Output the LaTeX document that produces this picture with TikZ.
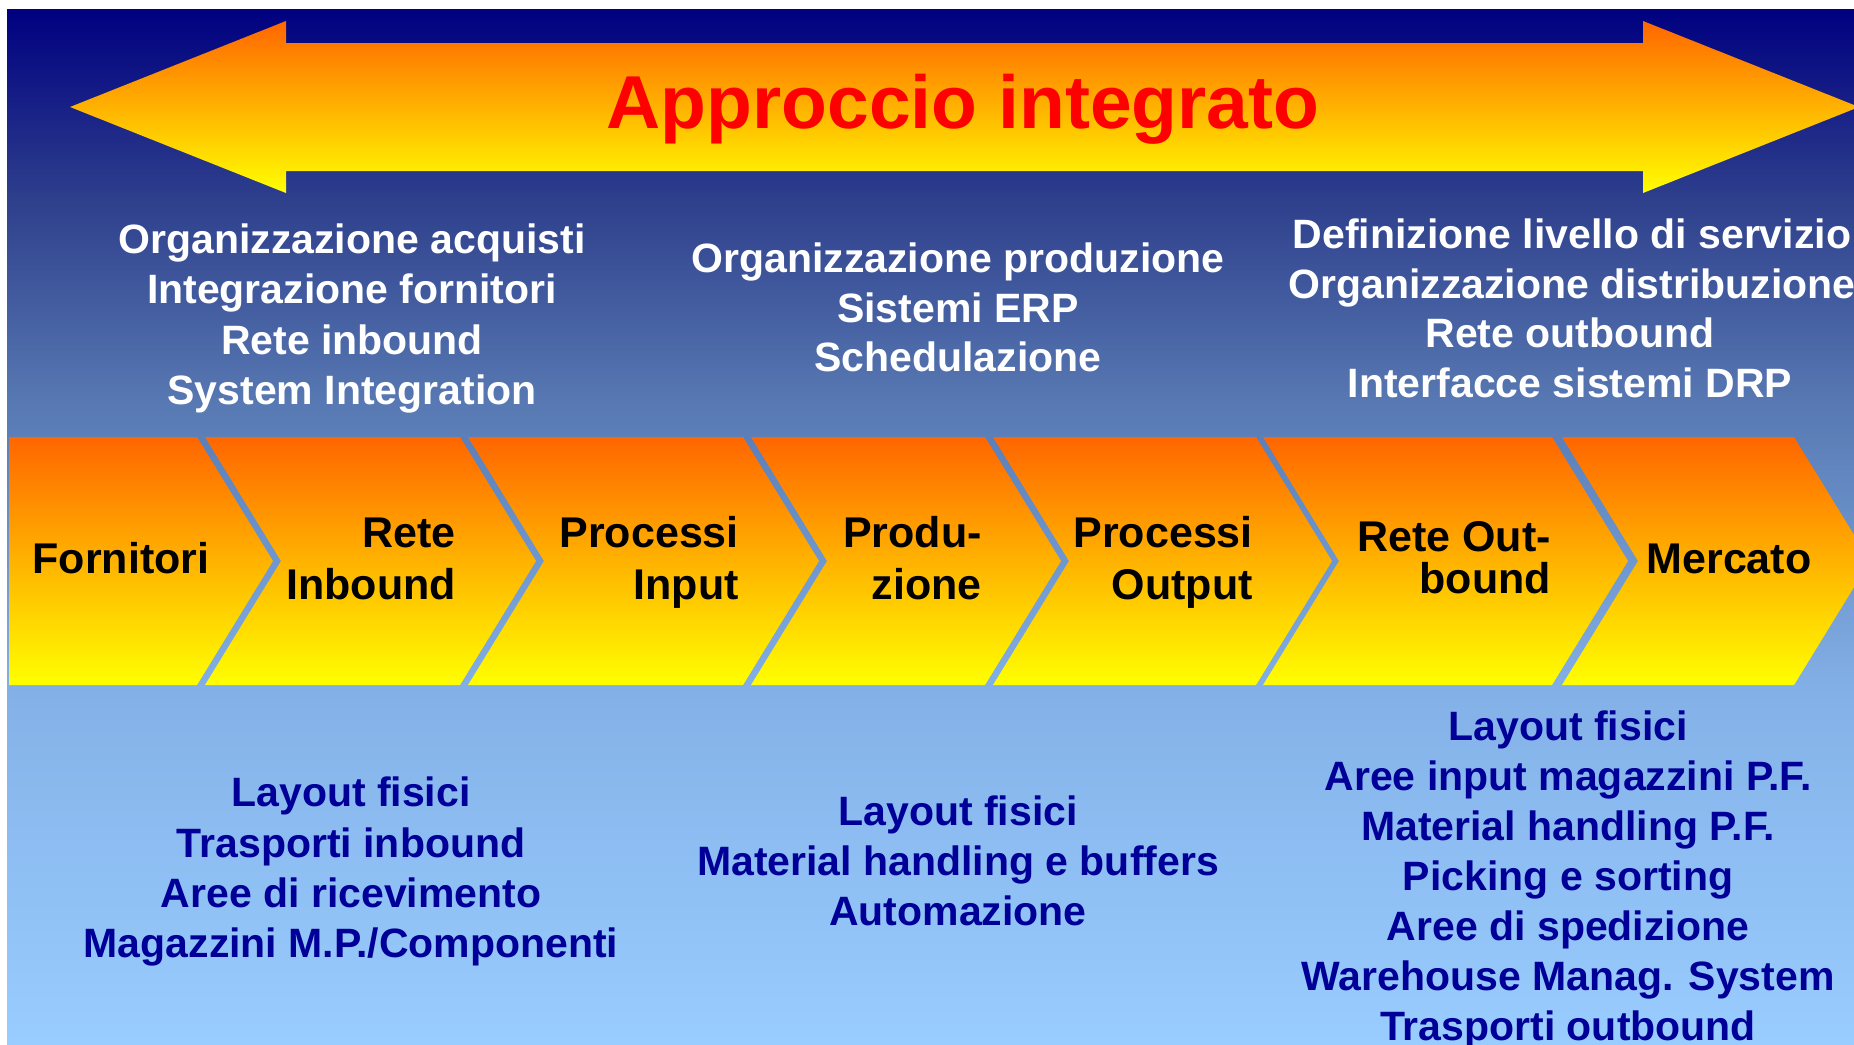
\documentclass[tikz,border=0pt]{standalone}
\usepackage{fontspec}
\setmainfont{Liberation Sans}
\usepackage{xcolor}
\usepackage{tikz}

\definecolor{bg1}{RGB}{0,0,128}
\definecolor{bg2}{RGB}{46,63,140}
\definecolor{bg3}{RGB}{87,120,178}
\definecolor{bg4}{RGB}{132,178,232}
\definecolor{bg5}{RGB}{153,204,255}
\pgfdeclareverticalshading{sfondo}{100bp}{color(0bp)=(bg5); color(25bp)=(bg5); color(41.6bp)=(bg4); color(56.1bp)=(bg3); color(65.8bp)=(bg2); color(75bp)=(bg1); color(100bp)=(bg1)}

\begin{document}
\begin{tikzpicture}[x=1pt,y=-1pt,
  testobianco/.style={text=white, font=\bfseries\fontsize{41}{50}\selectfont, inner sep=0pt, anchor=base},
  testoblu/.style={text=blutxt, font=\bfseries\fontsize{41}{50}\selectfont, inner sep=0pt, anchor=base},
  fase/.style={text=black, font=\bfseries\fontsize{43}{52}\selectfont, inner sep=0pt, anchor=base east},
  freccia/.style={top color=arancio, bottom color=giallo}]
\definecolor{arancio}{RGB}{255,102,0}
\definecolor{giallo}{RGB}{255,255,0}
\definecolor{blutxt}{RGB}{0,0,153}
\definecolor{rosso}{RGB}{255,0,0}

% Frame
\useasboundingbox (0,0) rectangle (1854,1044);
\clip (0,0) rectangle (1854,1044);
\fill[white] (0,0) rectangle (1854,1044);
\shade[shading=sfondo] (7,9) rectangle (1854,1044);

% Double arrow
\shade[freccia] (70,107) -- (286,21) -- (286,43) -- (1643,43) -- (1643,21) -- (1859,107)
  -- (1643,193) -- (1643,171) -- (286,171) -- (286,193) -- cycle;
\node[text=rosso, font=\bfseries\fontsize{75}{90}\selectfont, inner sep=0pt, anchor=base] (titolo) at (963,128) {Approccio integrato};

% Top texts
\node[testobianco] (acq1) at (352,253) {Organizzazione acquisti};
\node[testobianco] (acq2) at (352,303) {Integrazione fornitori};
\node[testobianco] (acq3) at (352,354) {Rete inbound};
\node[testobianco] (acq4) at (352,404) {System Integration};

\node[testobianco] (prod1) at (958,272) {Organizzazione produzione};
\node[testobianco] (prod2) at (958,322) {Sistemi ERP};
\node[testobianco] (prod3) at (958,371) {Schedulazione};

\node[testobianco] (dist1) at (1572,248) {Definizione livello di servizio};
\node[testobianco] (dist2) at (1572,298) {Organizzazione distribuzione};
\node[testobianco] (dist3) at (1570,347) {Rete outbound};
\node[testobianco] (dist4) at (1570,397) {Interfacce sistemi DRP};

% Chevrons
\shade[freccia] (9,437) -- (197,437) -- (273,561) -- (197,685) -- (9,685) -- cycle;
\shade[freccia] (205,437) -- (460,437) -- (536,561) -- (460,685) -- (205,685) -- (281,561) -- cycle;
\shade[freccia] (468,437) -- (743,437) -- (819,561) -- (743,685) -- (468,685) -- (544,561) -- cycle;
\shade[freccia] (751,437) -- (985,437) -- (1061,561) -- (985,685) -- (751,685) -- (827,561) -- cycle;
\shade[freccia] (993,437) -- (1256,437) -- (1332,561) -- (1256,685) -- (993,685) -- (1069,561) -- cycle;
\shade[freccia] (1263,437) -- (1552,437) -- (1628,561) -- (1552,685) -- (1263,685) -- (1339,561) -- cycle;
\shade[freccia] (1562,437) -- (1794,437) -- (1870,561) -- (1794,685) -- (1562,685) -- (1638,561) -- cycle;

% Chevron labels
\node[fase, anchor=base] (fornitori) at (121,573) {Fornitori};
\node[fase] (inb1) at (456,547) {Rete};
\node[fase] (inb2) at (456,599) {Inbound};
\node[fase] (pin1) at (739,547) {Processi};
\node[fase] (pin2) at (739,599) {Input};
\node[fase] (prd1) at (982,547) {Produ-};
\node[fase] (prd2) at (982,599) {zione};
\node[fase] (pout1) at (1253,547) {Processi};
\node[fase] (pout2) at (1253,599) {Output};
\node[fase] (outb1) at (1551,551) {Rete Out-};
\node[fase] (outb2) at (1551,593) {bound};
\node[fase, anchor=base] (mercato) at (1729,573) {Mercato};

% Bottom texts
\node[testoblu] (fis1) at (351,806) {Layout fisici};
\node[testoblu] (fis2) at (351,857) {Trasporti inbound};
\node[testoblu] (fis3) at (351,907) {Aree di ricevimento};
\node[testoblu] (fis4) at (351,957) {Magazzini M.P./Componenti};

\node[testoblu] (lay1) at (958,825) {Layout fisici};
\node[testoblu] (lay2) at (958,875) {Material handling e buffers};
\node[testoblu] (lay3) at (958,925) {Automazione};

\node[testoblu] (mag1) at (1568,740) {Layout fisici};
\node[testoblu] (mag2) at (1568,790) {Aree input magazzini P.F.};
\node[testoblu] (mag3) at (1568,840) {Material handling P.F.};
\node[testoblu] (mag4) at (1568,890) {Picking e sorting};
\node[testoblu] (mag5) at (1568,940) {Aree di spedizione};
\node[testoblu] (mag6) at (1568,990) {Warehouse Manag. System};
\node[testoblu] (mag7) at (1568,1040) {Trasporti outbound};

\end{tikzpicture}
\end{document}
